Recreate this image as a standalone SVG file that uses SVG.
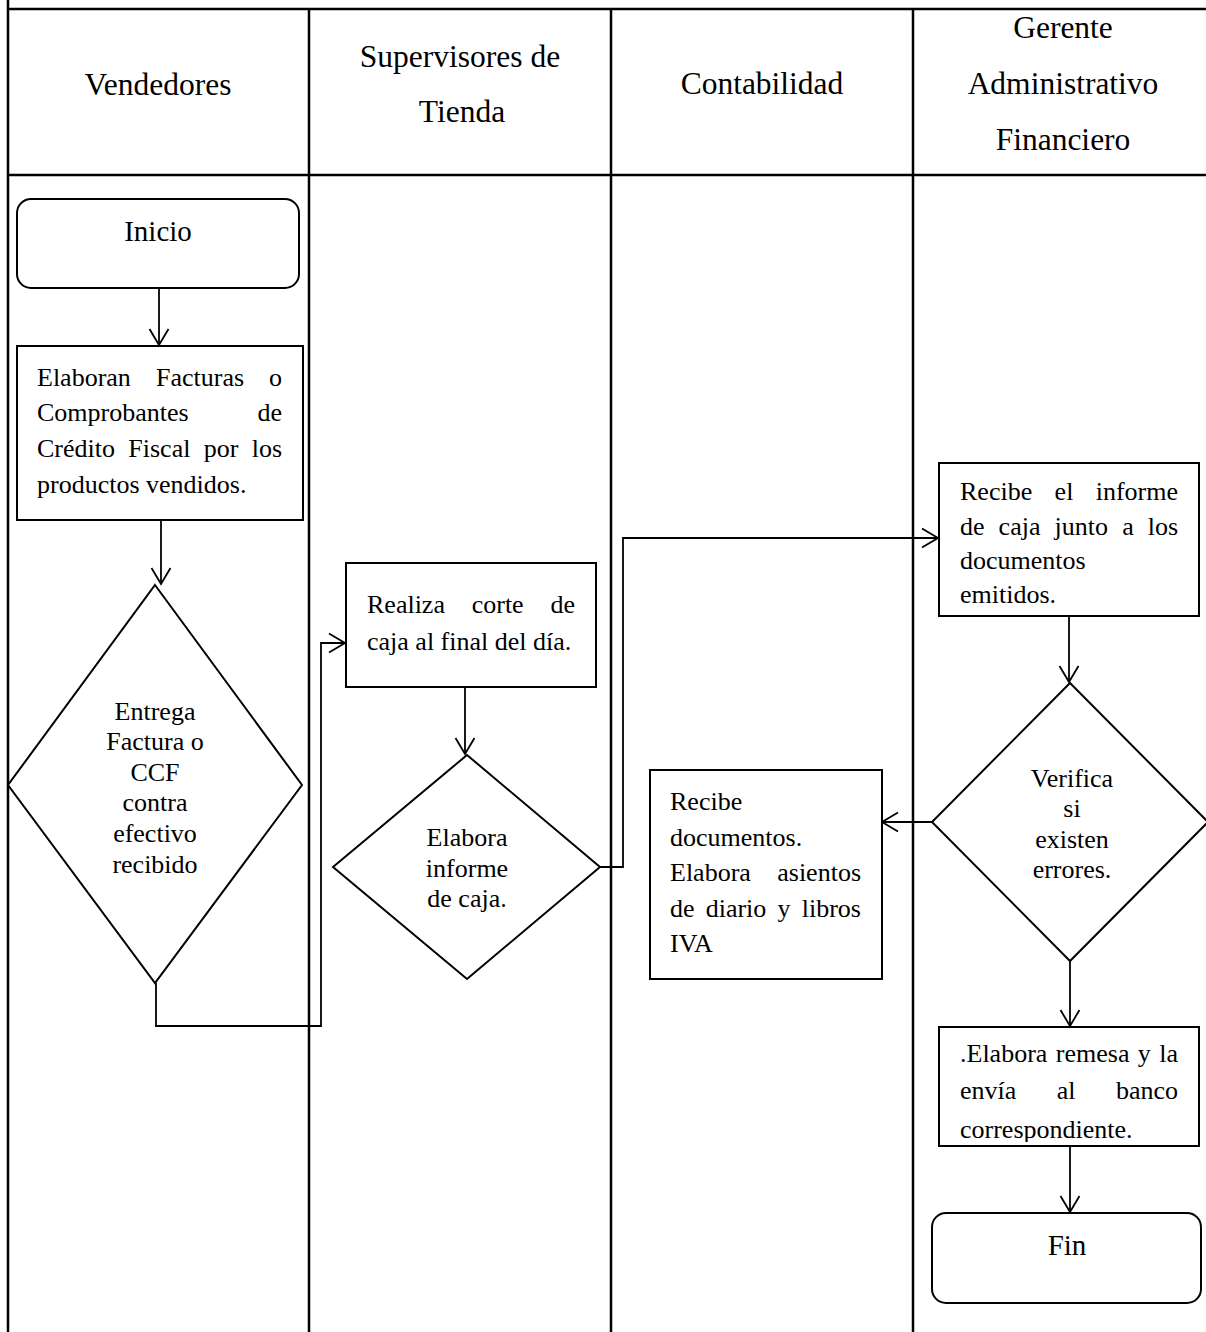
<svg xmlns="http://www.w3.org/2000/svg" width="1206" height="1332" viewBox="0 0 1206 1332">
  <style>
    .grid { stroke: #000; stroke-width: 2.5; fill: none; }
    .shape { stroke: #000; stroke-width: 2; fill: #fff; }
    .conn { stroke: #000; stroke-width: 1.8; fill: none; }
    text { font-family: "Liberation Serif", "Times New Roman", serif; fill: #000; }
    .hdr { font-size: 31.5px; text-anchor: middle; }
    .term { font-size: 29px; text-anchor: middle; }
    .body { font-size: 26px; }
    .mid { font-size: 26px; text-anchor: middle; }
    .end { text-anchor: end; }
  </style>
  <defs>
    <marker id="arrow" viewBox="-20 -12 22 24" refX="0" refY="0" markerWidth="22" markerHeight="24" markerUnits="userSpaceOnUse" orient="auto">
      <path d="M-16,-9.5 L0,0 L-16,9.5" fill="none" stroke="#000" stroke-width="1.8"/>
    </marker>
    <clipPath id="remesa-clip">
      <rect x="939" y="1027" width="260" height="115"/>
    </clipPath>
  </defs>

  <rect width="1206" height="1332" fill="#fff"/>

  <!-- swimlane grid -->
  <g id="lanes">
    <line class="grid" x1="8" y1="0" x2="8" y2="1332"/>
    <line class="grid" x1="8" y1="9" x2="1206" y2="9"/>
    <line class="grid" x1="8" y1="175" x2="1206" y2="175"/>
    <line class="grid" x1="309" y1="9" x2="309" y2="1332"/>
    <line class="grid" x1="611" y1="9" x2="611" y2="1332"/>
    <line class="grid" x1="913" y1="9" x2="913" y2="1332"/>
    <text class="hdr" x="158" y="95">Vendedores</text>
    <text class="hdr" x="460" y="67">Supervisores de</text>
    <text class="hdr" x="462" y="122">Tienda</text>
    <text class="hdr" x="762" y="94">Contabilidad</text>
    <text class="hdr" x="1063" y="38">Gerente</text>
    <text class="hdr" x="1063" y="94">Administrativo</text>
    <text class="hdr" x="1063" y="150">Financiero</text>
  </g>

  <!-- connectors -->
  <g id="connectors">
    <path class="conn" d="M159,289 V345" marker-end="url(#arrow)"/>
    <path class="conn" d="M161,520 V584" marker-end="url(#arrow)"/>
    <path class="conn" d="M156,983 V1026 H321 V643 H345" marker-end="url(#arrow)"/>
    <path class="conn" d="M465,687 V754" marker-end="url(#arrow)"/>
    <path class="conn" d="M600,867 H623 V538 H938" marker-end="url(#arrow)"/>
    <path class="conn" d="M1069,616 V682" marker-end="url(#arrow)"/>
    <path class="conn" d="M932,822 H882" marker-end="url(#arrow)"/>
    <path class="conn" d="M1070,961 V1026" marker-end="url(#arrow)"/>
    <path class="conn" d="M1070,1146 V1212" marker-end="url(#arrow)"/>
  </g>

  <g id="inicio">
    <rect class="shape" x="17" y="199" width="282" height="89" rx="14"/>
    <text class="term" x="158" y="241">Inicio</text>
  </g>

  <g id="elaboran-facturas">
    <rect class="shape" x="17" y="346" width="286" height="174"/>
    <text class="body" y="386"><tspan x="37">Elaboran</tspan><tspan x="156">Facturas</tspan><tspan x="282" class="end">o</tspan></text>
    <text class="body" y="421"><tspan x="37">Comprobantes</tspan><tspan x="282" class="end">de</tspan></text>
    <text class="body" y="457"><tspan x="37">Crédito</tspan><tspan x="128.3">Fiscal</tspan><tspan x="203.7">por</tspan><tspan x="282" class="end">los</tspan></text>
    <text class="body" x="37" y="493">productos vendidos.</text>
  </g>

  <g id="entrega-factura">
    <polygon class="shape" points="155,585 302,785 155,983 8,785"/>
    <text class="mid" x="155" y="720">Entrega</text>
    <text class="mid" x="155" y="750">Factura o</text>
    <text class="mid" x="155" y="781">CCF</text>
    <text class="mid" x="155" y="811">contra</text>
    <text class="mid" x="155" y="842">efectivo</text>
    <text class="mid" x="155" y="873">recibido</text>
  </g>

  <g id="corte-caja">
    <rect class="shape" x="346" y="563" width="250" height="124"/>
    <text class="body" y="613"><tspan x="367">Realiza</tspan><tspan x="471.7">corte</tspan><tspan x="575" class="end">de</tspan></text>
    <text class="body" x="367" y="650">caja al final del día.</text>
  </g>

  <g id="informe-caja">
    <polygon class="shape" points="467,755 600,867 467,979 333,867"/>
    <text class="mid" x="467" y="846">Elabora</text>
    <text class="mid" x="467" y="877">informe</text>
    <text class="mid" x="467" y="907">de caja.</text>
  </g>

  <g id="recibe-informe">
    <rect class="shape" x="939" y="463" width="260" height="153"/>
    <text class="body" y="500"><tspan x="960">Recibe</tspan><tspan x="1054.6">el</tspan><tspan x="1178" class="end">informe</tspan></text>
    <text class="body" y="535"><tspan x="960">de</tspan><tspan x="998.6">caja</tspan><tspan x="1054.6">junto</tspan><tspan x="1122.2">a</tspan><tspan x="1178" class="end">los</tspan></text>
    <text class="body" x="960" y="569">documentos</text>
    <text class="body" x="960" y="603">emitidos.</text>
  </g>

  <g id="verifica-errores">
    <polygon class="shape" points="1070,683 1208,822 1070,961 932,822"/>
    <text class="mid" x="1072" y="787">Verifica</text>
    <text class="mid" x="1072" y="817">si</text>
    <text class="mid" x="1072" y="848">existen</text>
    <text class="mid" x="1072" y="878">errores.</text>
  </g>

  <g id="recibe-documentos">
    <rect class="shape" x="650" y="770" width="232" height="209"/>
    <text class="body" x="670" y="810">Recibe</text>
    <text class="body" x="670" y="846">documentos.</text>
    <text class="body" y="881"><tspan x="670">Elabora</tspan><tspan x="861" class="end">asientos</tspan></text>
    <text class="body" y="917"><tspan x="670">de</tspan><tspan x="705.7">diario</tspan><tspan x="777.6">y</tspan><tspan x="861" class="end">libros</tspan></text>
    <text class="body" x="670" y="952">IVA</text>
  </g>

  <g id="elabora-remesa">
    <rect class="shape" x="939" y="1027" width="260" height="119"/>
    <g clip-path="url(#remesa-clip)">
      <text class="body" y="1062"><tspan x="960">.Elabora</tspan><tspan x="1055.8">remesa</tspan><tspan x="1137.8">y</tspan><tspan x="1178" class="end">la</tspan></text>
      <text class="body" y="1099"><tspan x="960">envía</tspan><tspan x="1056.7">al</tspan><tspan x="1178" class="end">banco</tspan></text>
      <text class="body" x="960" y="1138">correspondiente.</text>
    </g>
  </g>

  <g id="fin">
    <rect class="shape" x="932" y="1213" width="269" height="90" rx="14"/>
    <text class="term" x="1067" y="1255">Fin</text>
  </g>
</svg>
